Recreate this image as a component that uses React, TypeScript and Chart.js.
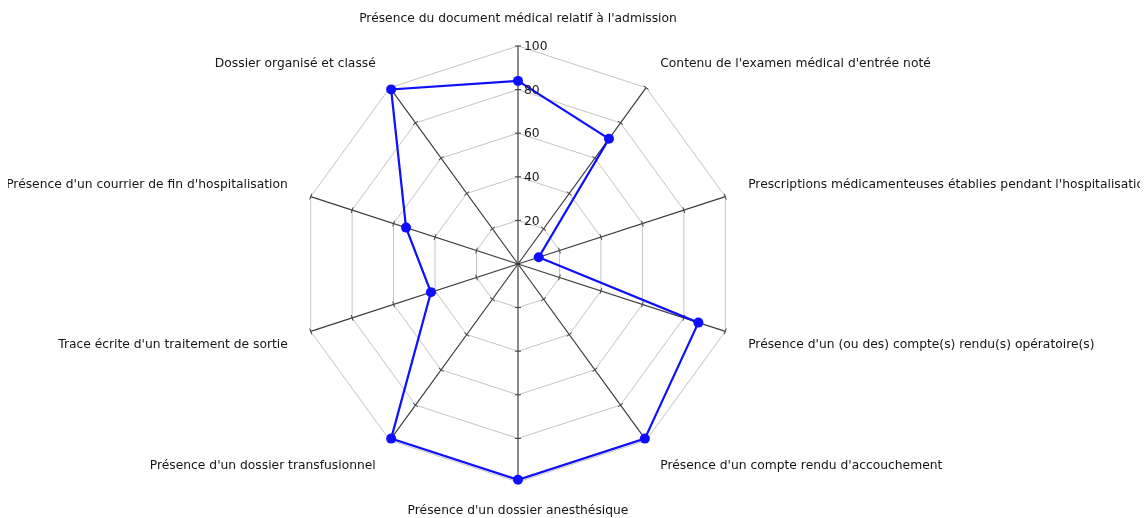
import React, { useEffect, useRef } from "react";
import { Chart, registerables } from "chart.js";

Chart.register(...registerables);

const categories: string[] = [
  "Présence du document médical relatif à l'admission",
  "Contenu de l'examen médical d'entrée noté",
  "Prescriptions médicamenteuses établies pendant l'hospitalisation",
  "Présence d'un (ou des) compte(s) rendu(s) opératoire(s)",
  "Présence d'un compte rendu d'accouchement",
  "Présence d'un dossier anesthésique",
  "Présence d'un dossier transfusionnel",
  "Trace écrite d'un traitement de sortie",
  "Présence d'un courrier de fin d'hospitalisation",
  "Dossier organisé et classé",
];

const seriesValues: number[] = [84, 71, 10, 87, 99, 99, 99, 42, 54, 99];

const tickValues: number[] = [20, 40, 60, 80, 100];

const FONT = "12.3px 'DejaVu Sans', sans-serif";

const spiderPlugin = {
  id: "spiderDecor",
  beforeDatasetsDraw(chart: any) {
    const scale = chart.scales.r;
    const ctx = chart.ctx;
    const n = categories.length;
    ctx.save();
    ctx.strokeStyle = "#3c3c3c";
    ctx.lineWidth = 1;
    for (let i = 0; i < n; i++) {
      const ang = scale.getIndexAngle(i) - Math.PI / 2;
      const px = -Math.sin(ang);
      const py = Math.cos(ang);
      for (const v of tickValues) {
        const d = scale.getDistanceFromCenterForValue(v);
        const p = scale.getPointPosition(i, d);
        ctx.beginPath();
        ctx.moveTo(p.x - px * 3, p.y - py * 3);
        ctx.lineTo(p.x + px * 3, p.y + py * 3);
        ctx.stroke();
      }
    }
    ctx.restore();
  },
  afterDraw(chart: any) {
    const scale = chart.scales.r;
    const ctx = chart.ctx;
    const n = categories.length;
    ctx.save();
    ctx.font = FONT;
    ctx.fillStyle = "#151515";
    const R = scale.drawingArea;
    for (let i = 0; i < n; i++) {
      const ang = scale.getIndexAngle(i);
      const s = Math.sin(ang);
      const c = Math.cos(ang);
      const vertical = Math.abs(s) < 0.01;
      const p = scale.getPointPosition(i, R + (vertical ? 28 : 24));
      let align: CanvasTextAlign = "center";
      if (!vertical) align = s > 0 ? "left" : "right";
      const dy = vertical ? 1 : c > 0 ? -4 : 6;
      ctx.textAlign = align;
      ctx.textBaseline = "middle";
      ctx.fillText(categories[i], p.x, p.y + dy);
    }
    ctx.textAlign = "left";
    ctx.textBaseline = "middle";
    for (const v of tickValues) {
      const d = scale.getDistanceFromCenterForValue(v);
      const p = scale.getPointPosition(0, d);
      ctx.fillText(String(v), p.x + 6, p.y + 1);
    }
    ctx.restore();
  },
};

export default function App() {
  const ref = useRef<HTMLCanvasElement | null>(null);
  useEffect(() => {
    if (!ref.current) return;
    const chart = new Chart(ref.current, {
      type: "radar",
      data: {
        labels: categories,
        datasets: [
          {
            data: seriesValues,
            borderColor: "#0f0fff",
            backgroundColor: "#0f0fff",
            borderWidth: 2.2,
            pointRadius: 5,
            pointBorderWidth: 0,
            pointBackgroundColor: "#0f0fff",
            fill: false,
          },
        ],
      },
      options: {
        responsive: false,
        animation: false,
        layout: { padding: { left: 292, right: 404, top: 38, bottom: 36 } },
        plugins: { legend: { display: false }, tooltip: { enabled: false } },
        scales: {
          r: {
            min: 0,
            max: 100,
            ticks: { display: false, stepSize: 20 },
            pointLabels: { display: false },
            grid: { color: "#c4c4c4", lineWidth: 1 },
            angleLines: { color: "#3c3c3c", lineWidth: 1.2 },
          },
        },
      },
      plugins: [spiderPlugin],
    });
    return () => chart.destroy();
  }, []);
  return (
    <canvas
      ref={ref}
      width={1132}
      height={510}
      style={{ display: "block", width: "1132px", height: "510px" }}
    />
  );
}
